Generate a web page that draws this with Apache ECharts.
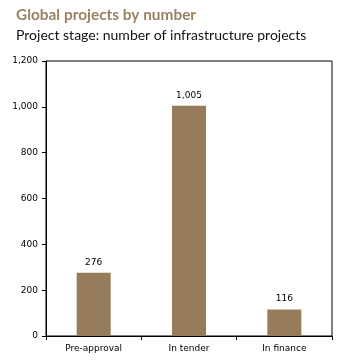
<!DOCTYPE html>
<html><head><meta charset="utf-8">
<script src="https://cdn.jsdelivr.net/npm/echarts@6/dist/echarts.min.js"></script>
<style>html,body{margin:0;padding:0;background:#fff}#c{width:348px;height:363px}</style>
</head><body><div id="c"></div>
<script>
var categories = ['Pre-approval', 'In tender', 'In finance'];
var values = [276, 1005, 116];
var yTicks = [0, 200, 400, 600, 800, 1000, 1200];

var chart = echarts.init(document.getElementById('c'), null, {renderer: 'canvas'});
chart.setOption({
  animation: false,
  title: [{
    text: 'Global projects by number',
    left: 11, top: 3,
    textStyle: {fontFamily: 'Lato', fontWeight: 'bold', fontSize: 15.4, color: '#9a8262'}
  }, {
    text: 'Project stage: number of infrastructure projects',
    left: 11, top: 23,
    textStyle: {fontFamily: 'Lato', fontWeight: 'normal', fontSize: 14, color: '#111'}
  }],
  grid: {left: 46, right: 16, top: 61, bottom: 27, show: true, borderColor: '#000', borderWidth: 1},
  xAxis: {
    type: 'category', data: categories,
    axisLine: {lineStyle: {color: '#000', width: 1}},
    axisTick: {show: true, length: 4, lineStyle: {color: '#000'}},
    axisLabel: {fontFamily: 'DejaVu Sans', fontSize: 9, color: '#000', margin: 8}
  },
  yAxis: {
    type: 'value', min: yTicks[0], max: yTicks[yTicks.length - 1], interval: 200,
    splitLine: {show: false},
    axisLine: {show: true, lineStyle: {color: '#000', width: 1}},
    axisTick: {show: true, length: 4, lineStyle: {color: '#000'}},
    axisLabel: {fontFamily: 'DejaVu Sans', fontSize: 9, color: '#000', margin: 8,
      formatter: function (v) { return v.toLocaleString('en-US'); }}
  },
  series: [{
    type: 'bar', data: values, barWidth: 34,
    itemStyle: {color: '#977c5c'},
    label: {show: true, position: 'top', distance: 6, fontFamily: 'DejaVu Sans', fontSize: 9, color: '#000',
      formatter: function (p) { return p.value.toLocaleString('en-US'); }}
  }]
});
</script></body></html>
